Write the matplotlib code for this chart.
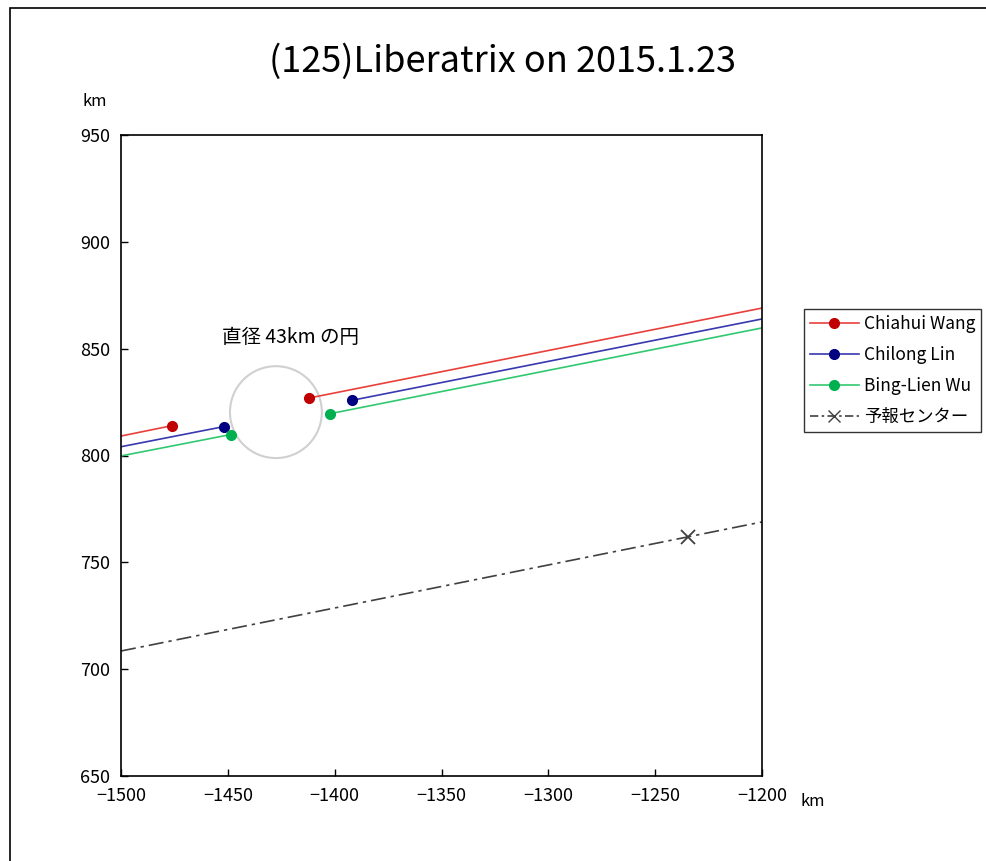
import matplotlib
matplotlib.use("Agg")
import matplotlib.pyplot as plt
from matplotlib.lines import Line2D
from matplotlib.patches import Circle, Rectangle

plt.rcParams['font.family'] = ['Noto Sans CJK JP', 'DejaVu Sans']

title = "(125)Liberatrix on 2015.1.23"
observers = ["Chiahui Wang", "Chilong Lin", "Bing-Lien Wu"]
line_colors = ["#e8403c", "#3838b0", "#30c870"]
dot_colors = ["#c00000", "#000080", "#00b050"]
# chord: left end, disappearance, reappearance, right end (x, y in km)
left_x = [-1500, -1500, -1500]
left_y = [809.1, 804.1, 799.8]
dis_x = [-1476, -1452, -1448.7]
dis_y = [814.0, 813.5, 809.8]
reap_x = [-1412, -1392, -1402]
reap_y = [826.9, 825.8, 819.6]
right_x = [-1200, -1200, -1200]
right_y = [869.0, 863.9, 859.7]

pred_label = "予報センター"
pred_line_x = [-1500, -1200]
pred_line_y = [708.5, 768.9]
pred_center_x = -1234.7
pred_center_y = 761.9

circle_x = -1427.5
circle_y = 820.3
circle_diam = 43
circle_text = "直径 43km の円"

xticks = [-1500, -1450, -1400, -1350, -1300, -1250, -1200]
yticks = [650, 700, 750, 800, 850, 900, 950]

fig = plt.figure(figsize=(9.87, 8.61), dpi=100)
ax = fig.add_axes([121/987, 1-776/861, 641/987, 641/861])

for i in range(3):
    ax.plot([left_x[i], dis_x[i]], [left_y[i], dis_y[i]], color=line_colors[i], lw=1.2, zorder=2)
    ax.plot([reap_x[i], right_x[i]], [reap_y[i], right_y[i]], color=line_colors[i], lw=1.2, zorder=2)
    ax.plot([dis_x[i], reap_x[i]], [dis_y[i], reap_y[i]], ls='none', marker='o', ms=7,
            color=dot_colors[i], zorder=3)

ax.plot(pred_line_x, pred_line_y, color="#404040", lw=1.2, ls=(0, (9, 3, 2, 3)), zorder=2)
ax.plot([pred_center_x], [pred_center_y], marker='x', ms=10, mew=1.3, color="#404040", zorder=3)

ax.add_patch(Circle((circle_x, circle_y), circle_diam/2, fill=False, ec="#d0d0d0", lw=1.5, zorder=1))
ax.text(-1452.7, 855, circle_text, fontsize=14, va='center', ha='left')

ax.set_xlim(-1500, -1200)
ax.set_ylim(650, 950)
ax.set_xticks(xticks)
ax.set_yticks(yticks)
ax.set_xticklabels([("\u2212%d" % -v) for v in xticks])
ax.tick_params(direction='in', length=5, width=1, labelsize=13, pad=8,
               colors='black')
for s in ax.spines.values():
    s.set_color('black')
    s.set_linewidth(1.2)

fig.text(503/987, 1-62/861, title, fontsize=26, ha='center', va='center')
fig.text(95/987, 1-101/861, "km", fontsize=12, ha='center', va='center')
fig.text(813/987, 1-801/861, "km", fontsize=12, ha='center', va='center')

handles = [Line2D([], [], color=line_colors[i], lw=1.2, marker='o', ms=7,
                  mfc=dot_colors[i], mec=dot_colors[i]) for i in range(3)]
handles.append(Line2D([], [], color="#404040", lw=1.2, ls=(0, (5, 2, 1.5, 2)), marker='x', ms=9))
leg = fig.legend(handles, observers + [pred_label], loc='upper left',
                 bbox_to_anchor=(804/987, 1-309/861), fontsize=12.5, frameon=True,
                 fancybox=False, handlelength=2.8, handletextpad=0.3, borderpad=0.35,
                 labelspacing=0.75, borderaxespad=0)
leg.get_frame().set_edgecolor('black')
leg.get_frame().set_linewidth(1.0)

fig.patches.append(Rectangle((10/987, -0.05), 2, 1.05 - 8/861, transform=fig.transFigure,
                             fill=False, ec='black', lw=1.2))

fig.savefig("out.png", dpi=100)
